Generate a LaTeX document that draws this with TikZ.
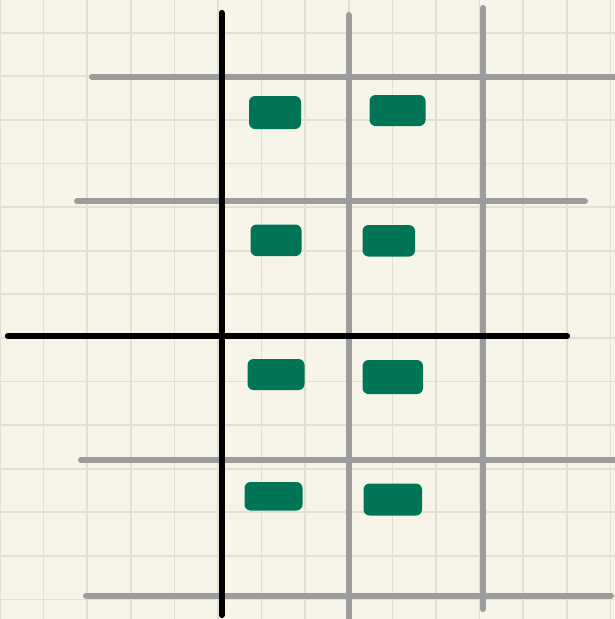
\documentclass[tikz,border=0pt]{standalone}
\definecolor{paper}{HTML}{F7F5E9}
\definecolor{gridc}{HTML}{E2E0D2}
\definecolor{grayline}{HTML}{9C9C9C}
\definecolor{blob}{HTML}{007556}
\begin{document}
\begin{tikzpicture}[x=1pt,y=-1pt,
  gridline/.style={draw=gridc,line width=1.7pt},
  blackbar/.style={draw=black,line width=6.3pt,line cap=round},
  graybar/.style={draw=grayline,line width=6pt,line cap=round},
  blobbox/.style={fill=blob,rounded corners=6pt,inner sep=0pt}]
\useasboundingbox (0,0) rectangle (615,619);
\fill[paper] (0,0) rectangle (615,619);
% grid
\foreach \k in {0,...,14} {\draw[gridline] (43.6*\k,0) -- (43.6*\k,619);}
\foreach \k in {0,...,13} {\draw[gridline] (0,32.7+43.6*\k) -- (615,32.7+43.6*\k);}
% gray horizontal lines
\coordinate (h1a) at (92,77);  \coordinate (h1b) at (618,77);
\coordinate (h2a) at (77,201); \coordinate (h2b) at (585,201);
\coordinate (h3a) at (81,460); \coordinate (h3b) at (618,460);
\coordinate (h4a) at (86,595.5); \coordinate (h4b) at (611,595.5);
\draw[graybar] (h1a) -- (h1b);
\draw[graybar] (h2a) -- (h2b);
\draw[graybar] (h3a) -- (h3b);
\draw[graybar] (h4a) -- (h4b);
% gray vertical lines
\coordinate (v2a) at (348.5,15); \coordinate (v2b) at (348.5,625);
\coordinate (v3a) at (482.7,8);  \coordinate (v3b) at (482.7,609);
\draw[graybar] (v2a) -- (v2b);
\draw[graybar] (v3a) -- (v3b);
% black axes
\coordinate (ya) at (221.7,13); \coordinate (yb) at (221.7,615);
\coordinate (xa) at (8,336);    \coordinate (xb) at (567,336);
\draw[blackbar] (ya) -- (yb);
\draw[blackbar] (xa) -- (xb);
% green blobs
\path[blobbox] (249,96) rectangle (301,129);
\path[blobbox] (369.5,95) rectangle (425.5,126);
\path[blobbox] (250.5,224.5) rectangle (301.5,256);
\path[blobbox] (362.5,225) rectangle (415,256.5);
\path[blobbox] (247.5,359) rectangle (304.5,390);
\path[blobbox] (362.5,360) rectangle (423,394);
\path[blobbox] (244.5,482) rectangle (302.5,510.5);
\path[blobbox] (363.5,483.5) rectangle (422,515.5);
\end{tikzpicture}
\end{document}
